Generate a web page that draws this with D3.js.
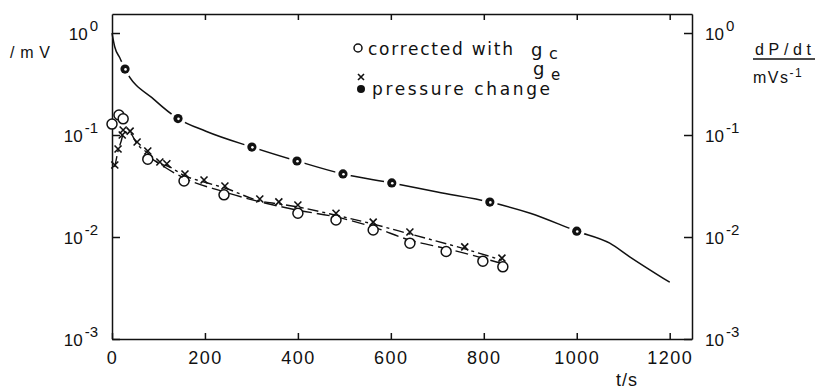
<!DOCTYPE html>
<html lang="en">
<head>
<meta charset="UTF-8">
<title>Signal decay</title>
<style>
  body { margin: 0; background: #fff; }
  svg { display: block; font-family: "Liberation Sans", Arial, sans-serif; }
  .ax path, .ax line { stroke: #111; stroke-width: 1.5; }
  .ax text { fill: #111; font-size: 18px; letter-spacing: 1.5px; }
  .leg text { font-family: "DejaVu Sans", sans-serif; }
</style>
</head>
<body>
<div id="chart"></div>
<script src="https://d3js.org/d3.v7.min.js"></script>
<script>

// corrected with g_c (open circles)
let gcTime  = [0, 15, 24, 77, 155, 241, 400, 482, 562, 641, 719, 798, 841];
let gcValue = [0.128, 0.157, 0.144, 0.058, 0.0354, 0.0259, 0.0171, 0.0147, 0.0117, 0.0087, 0.0072, 0.0058, 0.0051];

// corrected with g_e (crosses)
let geTime  = [6, 13, 22, 24, 39, 54, 77, 103, 118, 157, 198, 243, 318, 359, 400, 482, 562, 641, 759, 839];
let geValue = [0.0508, 0.0729, 0.100, 0.112, 0.109, 0.0853, 0.0697, 0.0544, 0.0523, 0.0415, 0.0362, 0.0316, 0.0236, 0.0221, 0.0206, 0.0171, 0.0140, 0.0112, 0.0080, 0.0062];

// pressure change (filled circles) and its curve
let prTime  = [28, 142, 301, 398, 497, 602, 813, 1000];
let prValue = [0.443, 0.145, 0.0762, 0.0556, 0.0415, 0.0339, 0.0220, 0.0114];
let curveTime  = [0, 6, 17, 28, 92, 142, 202, 301, 398, 497, 602, 700, 813, 900, 1000, 1071, 1114, 1200];
let curveValue = [1.0, 0.729, 0.569, 0.443, 0.220, 0.145, 0.109, 0.0762, 0.0556, 0.0415, 0.0339, 0.0276, 0.0220, 0.0171, 0.0114, 0.0087, 0.0064, 0.0036];

let xTicks = [0, 200, 400, 600, 800, 1000, 1200];
let yTicks = [1, 0.1, 0.01, 0.001];
let yExp   = ['0', '-1', '-2', '-3'];

let W = 818, H = 389;
let m = { left: 112, right: 692, top: 14, bottom: 339 };

let svg = d3.select('#chart').append('svg')
            .attr('width', W).attr('height', H);

let x = d3.scaleLinear().domain([0, 1248]).range([m.left, m.right]);
let y = d3.scaleLog().domain([0.001, 1.536]).range([m.bottom, m.top]);

// axes
svg.append('g').attr('class', 'ax')
   .attr('transform', `translate(0,${m.bottom})`)
   .call(d3.axisBottom(x).tickValues(xTicks).tickSize(-6).tickSizeOuter(0).tickFormat(d3.format('d')))
   .selectAll('text').attr('y', 12.5);

svg.append('g').attr('class', 'ax')
   .attr('transform', `translate(0,${m.top})`)
   .call(d3.axisTop(x).tickValues(xTicks.slice(1)).tickSize(-6).tickSizeOuter(0).tickFormat(''));

svg.append('g').attr('class', 'ax')
   .attr('transform', `translate(${m.left},0)`)
   .call(d3.axisLeft(y).tickValues(yTicks).tickSize(-8).tickSizeOuter(0).tickFormat(''));

svg.append('g').attr('class', 'ax')
   .attr('transform', `translate(${m.right},0)`)
   .call(d3.axisRight(y).tickValues(yTicks).tickSize(-8).tickSizeOuter(0).tickFormat(''));

// decade labels both sides
function decadeLabel(xpos, anchor) {
    let t = svg.selectAll(null).data(yTicks).enter().append('text')
       .attr('x', xpos)
       .attr('y', d => y(d) + 7)
       .attr('text-anchor', anchor)
       .attr('fill', '#111')
       .style('font-size', '17px');
    t.append('tspan').text('10');
    t.append('tspan').attr('dx', 2).attr('dy', -9).style('font-size', '15px')
     .text((d, i) => yExp[i]);
}
decadeLabel(98, 'end');
decadeLabel(705, 'start');

// pressure curve
svg.append('path')
   .datum(curveTime.map((t, i) => [t, curveValue[i]]))
   .attr('fill', 'none').attr('stroke', '#111').attr('stroke-width', 1.5)
   .attr('d', d3.line().x(d => x(d[0])).y(d => y(d[1])).curve(d3.curveMonotoneX));

// g_c dashed fit
svg.append('path')
   .datum(gcTime.map((t, i) => [t, gcValue[i]]).slice(3))
   .attr('fill', 'none').attr('stroke', '#111').attr('stroke-width', 1.4)
   .attr('stroke-dasharray', '13,5')
   .attr('d', d3.line().x(d => x(d[0])).y(d => y(d[1]) - 3).curve(d3.curveMonotoneX));

// g_e dashed fit
svg.append('path')
   .datum(geTime.map((t, i) => [t, geValue[i]]))
   .attr('fill', 'none').attr('stroke', '#111').attr('stroke-width', 1.4)
   .attr('stroke-dasharray', '11,4,3,4')
   .attr('d', d3.line().x(d => x(d[0])).y(d => y(d[1]) + 2).curve(d3.curveMonotoneX));

// pressure markers, white halo breaks the line
let pr = svg.selectAll('.pr').data(prTime).enter().append('g')
            .attr('transform', (d, i) => `translate(${x(d)},${y(prValue[i])})`);
pr.append('circle').attr('r', 8).attr('fill', '#fff');
pr.append('circle').attr('r', 4.6).attr('fill', '#111');
pr.append('circle').attr('r', 1.3).attr('cx', 0.5).attr('cy', 0.3).attr('fill', '#fff');

// g_c open circles
svg.selectAll('.gc').data(gcTime).enter().append('circle')
   .attr('cx', d => x(d))
   .attr('cy', (d, i) => y(gcValue[i]))
   .attr('r', 5)
   .attr('fill', '#fff').attr('stroke', '#111').attr('stroke-width', 1.5);

// g_e crosses
let s = 3.5;
svg.selectAll('.ge').data(geTime).enter().append('path')
   .attr('transform', (d, i) => `translate(${x(d)},${y(geValue[i])})`)
   .attr('d', `M${-s},${-s}L${s},${s}M${-s},${s}L${s},${-s}`)
   .attr('stroke', '#111').attr('stroke-width', 1.6);

// legend
let leg = svg.append('g').attr('class', 'leg').attr('fill', '#111').style('font-size', '17px');
leg.append('circle').attr('cx', 358).attr('cy', 48).attr('r', 4)
   .attr('fill', 'none').attr('stroke', '#111').attr('stroke-width', 1.5);
leg.append('text').attr('x', 368).attr('y', 55)
   .attr('textLength', 145).attr('lengthAdjust', 'spacing').text('corrected with');
leg.append('text').attr('x', 531).attr('y', 56).style('font-size', '18px').text('g');
leg.append('text').attr('x', 549).attr('y', 59).style('font-size', '16px').text('c');

leg.append('path').attr('d', 'M358,74L364,80M358,80L364,74').attr('stroke', '#111').attr('stroke-width', 1.6);
leg.append('text').attr('x', 533).attr('y', 75).style('font-size', '18px').text('g');
leg.append('text').attr('x', 551).attr('y', 80).style('font-size', '15px').text('e');

leg.append('circle').attr('cx', 361).attr('cy', 89).attr('r', 4).attr('fill', '#111');
leg.append('text').attr('x', 372).attr('y', 95)
   .attr('textLength', 178).attr('lengthAdjust', 'spacing').text('pressure change');

// axis titles
svg.append('text').attr('x', 10).attr('y', 58).attr('fill', '#111')
   .attr('textLength', 40).attr('lengthAdjust', 'spacing')
   .style('font-size', '16px').text('/mV');

svg.append('text').attr('x', 755).attr('y', 55).attr('fill', '#111')
   .attr('textLength', 56).attr('lengthAdjust', 'spacing')
   .style('font-size', '16px').text('dP/dt');
svg.append('line').attr('x1', 753).attr('x2', 815).attr('y1', 59).attr('y2', 59)
   .attr('stroke', '#111').attr('stroke-width', 1.3);
let un = svg.append('text').attr('x', 753).attr('y', 83).attr('fill', '#111')
   .style('font-size', '16px').style('letter-spacing', '1.5px');
un.append('tspan').text('mVs');
un.append('tspan').attr('dy', -6).style('font-size', '12px').text('-1');

svg.append('text').attr('x', 616).attr('y', 386).attr('fill', '#111')
   .style('font-size', '18px').style('letter-spacing', '1px').text('t/s');

</script>
</body>
</html>
